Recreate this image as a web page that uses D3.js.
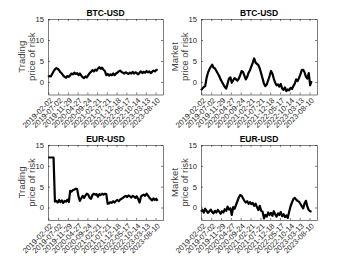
<!DOCTYPE html>
<html><head><meta charset="utf-8">
<script src="https://cdn.jsdelivr.net/npm/d3@7"></script>
<style>
html,body{margin:0;padding:0;background:#fff;}
svg{display:block;font-family:"Liberation Sans",Arial,Helvetica,sans-serif;}
</style></head>
<body>
<svg id="chart" width="350" height="263"></svg>
<script>
// ---------- data ----------
const dataStart = "2019-01-27";
const dataEnd = "2023-09-10";
const axisEnd = "2023-12-02";
const tickDates = ["2019-02-02","2019-07-02","2019-11-29","2020-04-27","2020-09-24","2021-02-21",
  "2021-07-21","2021-12-18","2022-05-17","2022-10-14","2023-03-13","2023-08-10"];
const yTicks = [0, 5, 10, 15];
const yDomain = [-3, 15];
const titles = ["BTC-USD", "BTC-USD", "EUR-USD", "EUR-USD"];
const ylabelLine1 = ["Trading", "Market", "Trading", "Market"];
const ylabelLine2 = "price of risk";

const btcTrading = [1.2,1.4,1.3,1.9,2.5,3.0,3.3,3.1,2.8,2.3,
  2.0,1.5,1.2,1.0,1.4,1.2,1.6,2.0,1.8,2.2,
  1.9,2.1,1.6,2.0,1.5,1.1,0.9,1.3,1.1,1.6,
  2.1,2.4,2.8,2.5,2.9,2.7,3.2,3.5,3.1,3.4,
  2.9,2.6,1.6,1.9,1.5,1.8,1.6,2.0,1.6,2.0,
  2.2,2.5,2.7,2.4,2.2,2.0,2.3,2.1,1.9,2.2,
  2.0,2.4,2.0,2.3,2.1,1.8,2.2,2.5,2.1,2.4,
  2.2,2.6,2.3,2.5,2.1,2.4,2.7,2.5,2.8,3.0];
const btcMarket = [-2.0,-1.6,-1.2,-1.0,1.0,2.2,3.0,3.6,4.1,3.4,
  3.2,2.6,2.0,1.4,0.6,0.0,-0.6,-1.2,-1.6,-0.4,
  0.8,1.1,-0.2,0.4,0.9,0.6,0.3,0.8,1.6,2.6,
  2.4,1.5,0.6,1.2,2.2,2.8,3.7,4.6,5.6,4.6,
  4.3,4.0,3.2,2.0,0.8,-0.4,-1.0,-0.6,0.4,1.4,
  2.6,2.0,0.8,-0.2,-0.8,-0.6,-1.1,-0.5,-1.6,-1.9,
  -1.3,-2.2,-1.8,-2.0,-1.4,-1.7,-1.0,-0.4,0.6,0.2,
  0.9,1.8,2.8,2.9,2.3,1.2,0.8,2.1,-0.8,0.2];
const eurTrading = [12,12,12,12,12,
  1.4,1.6,1.2,1.8,1.3,1.7,1.1,1.6,1.4,1.9,1.3,
  4.0,3.8,4.2,4.3,4.5,4.4,
  2.6,1.6,2.2,2.8,2.3,2.9,
  3.3,3.1,2.3,2.1,
  3.0,3.3,3.1,3.2,2.6,
  3.2,3.0,3.3,3.1,3.3,3.2,
  0.9,1.0,1.3,1.1,1.5,1.2,1.6,1.8,1.5,1.9,2.1,
  2.3,2.6,2.8,2.5,2.9,2.7,2.4,2.8,2.6,2.3,2.7,
  2.0,1.2,
  2.6,2.9,3.1,2.8,3.3,2.9,2.4,
  2.0,1.7,2.2,1.8,2.1,1.6];
const eurMarket = [-1.0,-0.6,-1.2,-0.3,-0.8,-1.3,-0.9,-0.5,-1.1,-1.4,
  -0.8,-1.2,-0.6,-1.0,-1.5,-0.9,-1.2,-0.4,-0.8,0.2,
  -0.5,-0.2,-1.8,0.1,-0.3,0.6,1.5,2.4,3.0,2.8,
  2.2,1.6,1.2,1.5,0.9,1.3,0.8,1.1,0.4,0.9,
  0.1,-0.6,0.4,-0.8,-1.0,-2.6,-1.8,-2.2,-1.2,-1.8,
  -1.3,-2.0,-0.9,-1.6,-2.2,-1.4,-1.8,-1.1,-2.1,-1.6,
  -2.3,-1.9,-2.5,-1.0,0.3,1.2,2.0,2.3,1.9,1.6,
  1.4,0.9,0.3,-0.2,1.0,1.6,0.2,-0.6,-0.9,-1.0];
const seriesList = [btcTrading, btcMarket, eurTrading, eurMarket];

// ---------- layout ----------
const colX = [[48, 163], [201, 317]];
const rowY = [[19, 94.5], [145, 220]];
const parse = d3.utcParse("%Y-%m-%d");
const fmt = d3.utcFormat("%Y-%m-%d");
const svg = d3.select("#chart");
const axisColor = "#262626";
const textColor = "#262626";
const tickFont = 7.6;

seriesList.forEach((vals, k) => {
  const col = k % 2, row = Math.floor(k / 2);
  const [x0, x1] = colX[col];
  const [yTop, yBot] = rowY[row];
  const x = d3.scaleUtc().domain([parse(dataStart), parse(axisEnd)]).range([x0, x1]);
  const y = d3.scaleLinear().domain(yDomain).range([yBot, yTop]);
  const t0 = parse(dataStart).getTime(), t1 = parse(dataEnd).getTime();
  const pts = vals.map((v, i) => [new Date(t0 + (t1 - t0) * i / (vals.length - 1)), v]);

  const g = svg.append("g");
  g.append("path").datum(pts)
    .attr("fill", "none").attr("stroke", "#000").attr("stroke-width", 2.2)
    .attr("stroke-linejoin", "round")
    .attr("d", d3.line().x(d => x(d[0])).y(d => y(d[1])));

  const td = tickDates.map(parse);
  const gb = g.append("g").attr("transform", `translate(0,${yBot})`)
    .call(d3.axisBottom(x).tickValues(td).tickFormat(fmt).tickSizeInner(-2).tickSizeOuter(0));
  gb.selectAll("text")
    .attr("x", 0).attr("y", 0).attr("dy", "0.35em")
    .attr("text-anchor", "end")
    .attr("transform", "translate(2.5,4.5) rotate(-45)");
  g.append("g").attr("transform", `translate(0,${yTop})`)
    .call(d3.axisTop(x).tickValues(td).tickFormat("").tickSizeInner(-2).tickSizeOuter(0));
  const gl = g.append("g").attr("transform", `translate(${x0},0)`)
    .call(d3.axisLeft(y).tickValues(yTicks).tickSizeInner(-2).tickSizeOuter(0).tickPadding(4));
  g.append("g").attr("transform", `translate(${x1},0)`)
    .call(d3.axisRight(y).tickValues(yTicks).tickFormat("").tickSizeInner(-2).tickSizeOuter(0));

  g.selectAll("g").attr("font-size", null).attr("font-family", null);
  g.selectAll(".tick text").style("font-size", tickFont + "px").attr("fill", textColor);
  g.selectAll(".domain").attr("stroke", axisColor).attr("stroke-width", 0.6);
  g.selectAll(".tick line").attr("stroke", axisColor).attr("stroke-width", 0.6);

  g.append("text").attr("x", (x0 + x1) / 2).attr("y", yTop - 3)
    .attr("text-anchor", "middle").style("font-size", "8.5px").attr("font-weight", "bold")
    .attr("fill", "#000").text(titles[k]);
  const yc = (yTop + yBot) / 2;
  g.append("text").attr("transform", `translate(${x0 - 23},${yc}) rotate(-90)`)
    .attr("text-anchor", "middle").style("font-size", "9.5px").attr("fill", "#404040")
    .text(ylabelLine1[k]);
  g.append("text").attr("transform", `translate(${x0 - 13.5},${yc}) rotate(-90)`)
    .attr("text-anchor", "middle").style("font-size", "9.5px").attr("fill", "#404040")
    .text(ylabelLine2);
});
</script>
</body></html>
